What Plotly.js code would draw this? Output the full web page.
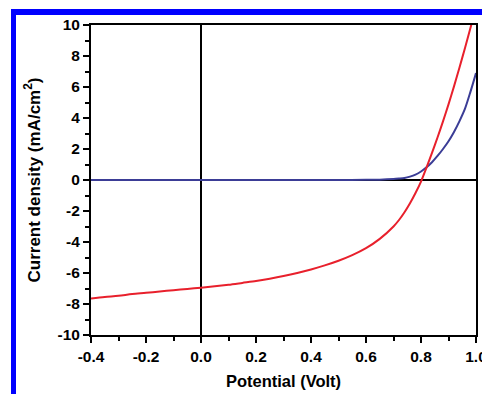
<!DOCTYPE html>
<html>
<head>
<meta charset="utf-8">
<script src="https://cdn.plot.ly/plotly-3.0.1.min.js"></script>
<style>
  html, body { margin: 0; padding: 0; background: #fff; }
  #wrap { position: relative; width: 482px; height: 394px; overflow: hidden; }
  #chart { position: absolute; left: 0; top: 0; width: 482px; height: 394px; }
  #frame { position: absolute; left: 11px; top: 9px; width: 471px; height: 385px;
           border-top: 6px solid #0000ff; border-left: 5px solid #0000ff;
           box-sizing: border-box; pointer-events: none; }
</style>
</head>
<body>
<div id="wrap">
  <div id="chart"></div>
  <div id="frame"></div>
</div>
<script>
// Potential (V)
const redV = [-0.40,-0.35,-0.30,-0.25,-0.20,-0.15,-0.10,-0.05,0.00,0.05,0.10,0.15,0.20,0.25,0.30,0.35,0.40,0.45,0.50,0.55,0.60,0.65,0.70,0.72,0.74,0.76,0.78,0.80,0.82,0.84,0.86,0.88,0.90,0.92,0.94,0.96,0.98,1.00];
// Current density (mA/cm2), red curve
const redJ = [-7.65,-7.55,-7.47,-7.36,-7.28,-7.19,-7.11,-7.03,-6.95,-6.86,-6.76,-6.64,-6.52,-6.37,-6.20,-6.00,-5.77,-5.51,-5.21,-4.85,-4.40,-3.80,-3.00,-2.58,-2.08,-1.50,-0.84,-0.10,0.80,1.75,2.74,3.78,4.88,6.04,7.26,8.52,9.82,11.15];

const blueV = [-0.40,-0.20,0.00,0.20,0.40,0.50,0.60,0.65,0.70,0.72,0.74,0.76,0.78,0.80,0.82,0.84,0.86,0.88,0.90,0.92,0.94,0.96,0.98,1.00];
const blueJ = [0.00,0.00,0.00,0.00,0.00,0.00,0.01,0.02,0.06,0.09,0.13,0.22,0.35,0.55,0.82,1.15,1.55,2.00,2.50,3.10,3.80,4.60,5.70,6.90];

const xTickVals = [-0.4,-0.2,0.0,0.2,0.4,0.6,0.8,1.0];
const xTickText = ['-0.4','-0.2','0.0','0.2','0.4','0.6','0.8','1.0'];
const yTickVals = [-10,-8,-6,-4,-2,0,2,4,6,8,10];
const yTickText = ['-10','-8','-6','-4','-2','0','2','4','6','8','10'];

const xTitle = 'Potential (Volt)';
const yTitle = 'Current density (mA/cm<sup>2</sup>)';

const tickFont = {family: 'Liberation Sans, Arial, sans-serif', size: 15.5, color: '#000', weight: 'bold'};
const titleFont = {family: 'Liberation Sans, Arial, sans-serif', size: 16.5, color: '#000', weight: 'bold'};
const yTitleFont = {family: 'Liberation Sans, Arial, sans-serif', size: 17, color: '#000', weight: 'bold'};

const traces = [
  {x: blueV, y: blueJ, mode: 'lines', line: {color: '#3b3d96', width: 2, shape: 'spline', smoothing: 0.8}, hoverinfo: 'skip'},
  {x: redV, y: redJ, mode: 'lines', line: {color: '#e8202c', width: 2, shape: 'spline', smoothing: 0.8}, hoverinfo: 'skip'}
];

const layout = {
  width: 482, height: 394,
  margin: {l: 91, r: 6, t: 25, b: 59},
  paper_bgcolor: 'rgba(0,0,0,0)',
  plot_bgcolor: '#fff',
  showlegend: false,
  xaxis: {
    range: [-0.4, 1.0], tickmode: 'array', tickvals: xTickVals, ticktext: xTickText,
    showgrid: false, zeroline: true, zerolinecolor: '#000', zerolinewidth: 2,
    showline: true, linecolor: '#000', linewidth: 2, mirror: true,
    ticks: 'outside', ticklen: 6, tickwidth: 2, tickcolor: '#000',
    minor: {tick0: -0.4, dtick: 0.1, ticks: 'outside', ticklen: 4, tickwidth: 2, tickcolor: '#000', showgrid: false},
    tickfont: tickFont, automargin: false, ticklabeloverflow: 'allow',
    title: {text: xTitle, font: titleFont, standoff: 12}
  },
  yaxis: {
    range: [-10, 10], tickmode: 'array', tickvals: yTickVals, ticktext: yTickText,
    showgrid: false, zeroline: true, zerolinecolor: '#000', zerolinewidth: 2,
    showline: true, linecolor: '#000', linewidth: 2, mirror: true,
    ticks: 'outside', ticklen: 6, tickwidth: 2, tickcolor: '#000',
    minor: {tick0: -10, dtick: 1, ticks: 'outside', ticklen: 4, tickwidth: 2, tickcolor: '#000', showgrid: false},
    tickfont: tickFont, automargin: false,
    title: {text: yTitle, font: yTitleFont, standoff: 13}
  }
};

Plotly.newPlot('chart', traces, layout, {staticPlot: true, displayModeBar: false});
</script>
</body>
</html>
